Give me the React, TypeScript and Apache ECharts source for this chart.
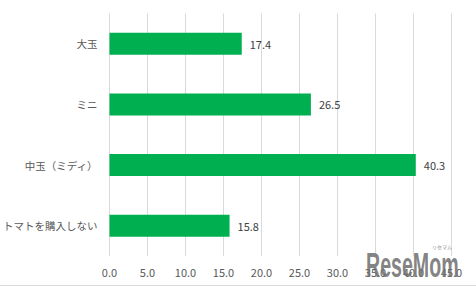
import React, { useEffect, useRef } from "react";
import * as echarts from "echarts";

const categories = ["トマトを購入しない", "中玉（ミディ）", "ミニ", "大玉"];
const values = [15.8, 40.3, 26.5, 17.4];
const axisMin = 0;
const axisMax = 45;
const axisInterval = 5;

export default function App() {
  const ref = useRef<HTMLDivElement>(null);
  useEffect(() => {
    if (!ref.current) return;
    const chart = echarts.init(ref.current, null, { renderer: "svg" });
    const font = "'Noto Sans CJK JP', 'Noto Sans', sans-serif";
    chart.setOption({
      animation: false,
      backgroundColor: "#ffffff",
      grid: {
        left: 109.5,
        right: 24.5,
        top: 13.5,
        bottom: 31,
        containLabel: false,
        outerBoundsMode: "none",
      },
      xAxis: {
        type: "value",
        min: axisMin,
        max: axisMax,
        interval: axisInterval,
        axisLine: { show: false },
        axisTick: { show: false },
        splitLine: { show: true, lineStyle: { color: "#d9d9d9", width: 1 } },
        axisLabel: {
          color: "#595959",
          fontSize: 11,
          fontFamily: font,
          margin: 10,
          formatter: (v: number) => v.toFixed(1),
        },
      },
      yAxis: {
        type: "category",
        data: categories,
        axisLine: { show: false },
        axisTick: { show: false },
        axisLabel: { color: "#595959", fontSize: 10.5, fontFamily: font, margin: 12 },
      },
      series: [
        {
          type: "bar",
          data: values,
          barWidth: 22,
          itemStyle: { color: "#00b050" },
          label: {
            show: true,
            position: "right",
            distance: 8,
            color: "#404040",
            fontSize: 11,
            fontFamily: font,
            formatter: (p: any) => Number(p.value).toFixed(1),
          },
        },
      ],
      graphic: [
        {
          type: "line",
          shape: { x1: 0, y1: 285.5, x2: 476, y2: 285.5 },
          style: { stroke: "#d9d9d9", lineWidth: 1 },
          silent: true,
        },
        {
          type: "text",
          x: 366,
          y: 247,
          scaleX: 0.56,
          style: {
            text: "ReseMom",
            fontSize: 35,
            fontWeight: "bold",
            fontFamily: "'Liberation Sans', Arial, sans-serif",
            fill: "rgba(110,110,110,0.85)",
          },
          z: 100,
        },
        {
          type: "text",
          x: 432,
          y: 244,
          style: {
            text: "リセマム",
            fontSize: 5,
            fontFamily: font,
            fill: "#888888",
          },
          z: 100,
        },
      ],
    });
    return () => chart.dispose();
  }, []);
  return (
    <div
      ref={ref}
      style={{ position: "fixed", left: 0, top: 0, width: 476, height: 287 }}
    />
  );
}
